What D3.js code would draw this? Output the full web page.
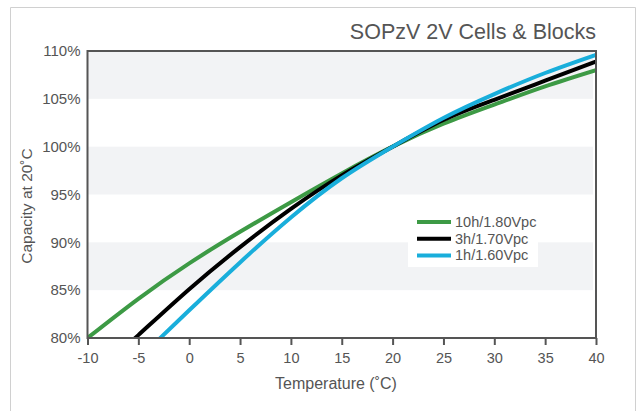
<!DOCTYPE html>
<html>
<head>
<meta charset="utf-8">
<script src="https://cdn.jsdelivr.net/npm/d3@7"></script>
<style>
  body { margin:0; background:#fff; font-family: "Liberation Sans", Arial, sans-serif; }
  svg { display:block; }
</style>
</head>
<body>
<div id="chart"></div>
<script>
// values
const temps = [-10, -5, 0, 5, 10, 15, 20, 25, 30, 35, 40];
const cap10h = [80.0, 84.1, 87.8, 91.1, 94.2, 97.2, 100, 102.4, 104.4, 106.3, 108.0];
const cap3h  = [75.5, 80.3, 85.1, 89.5, 93.5, 97.0, 100, 102.8, 104.9, 106.9, 108.9];
const cap1h  = [72.6, 77.8, 82.9, 87.9, 92.6, 96.7, 100, 103.0, 105.5, 107.7, 109.6];

const xTicks = [-10, -5, 0, 5, 10, 15, 20, 25, 30, 35, 40];
const yTicks = [80, 85, 90, 95, 100, 105, 110];
const bandStarts = [105, 95, 85];   // shaded 5% stripes

const seriesNames = ["10h/1.80Vpc", "3h/1.70Vpc", "1h/1.60Vpc"];
const seriesValues = [cap10h, cap3h, cap1h];
const seriesColors = ["#3d9a45", "#000000", "#19aedb"];

const W = 636, H = 411;
const ink = "#555";
const font = "Liberation Sans, Arial, sans-serif";

const svg = d3.select("#chart").append("svg")
  .attr("width", W).attr("height", H);

// outer light frame (no bottom edge in the picture)
svg.append("path")
  .attr("d", `M10.5,${H} V7.5 H635.5 V${H}`)
  .attr("fill", "none").attr("stroke", "#d0d0d0").attr("stroke-width", 1);

const x = d3.scaleLinear().domain([-10, 40]).range([87.5, 596]);
const y = d3.scaleLinear().domain([80, 110]).range([338, 51]);

// stripes
svg.append("g").selectAll("rect")
  .data(bandStarts)
  .join("rect")
  .attr("x", x(-10))
  .attr("y", d => y(d + 5))
  .attr("width", x(40) - x(-10) - 3)
  .attr("height", d => y(d) - y(d + 5))
  .attr("fill", "#f2f3f5");

// curves
svg.append("clipPath").attr("id", "plot")
  .append("rect")
  .attr("x", x(-10)).attr("y", y(110))
  .attr("width", x(40) - x(-10)).attr("height", y(80) - y(110));

const line = d3.line()
  .x((d, i) => x(temps[i]))
  .y(d => y(d))
  .curve(d3.curveNatural);

svg.append("g").attr("clip-path", "url(#plot)")
  .selectAll("path")
  .data(seriesValues)
  .join("path")
  .attr("d", line)
  .attr("fill", "none")
  .attr("stroke", (d, i) => seriesColors[i])
  .attr("stroke-width", 4);

// frame around the plot
svg.append("rect")
  .attr("x", x(-10)).attr("y", y(110))
  .attr("width", x(40) - x(-10)).attr("height", y(80) - y(110))
  .attr("fill", "none").attr("stroke", ink).attr("stroke-width", 2);

// x axis
const xAxis = svg.append("g")
  .attr("transform", `translate(0,${y(80)})`)
  .call(d3.axisBottom(x).tickValues(xTicks).tickSize(7).tickSizeOuter(0).tickFormat(d => String(d)));
xAxis.select(".domain").remove();
xAxis.selectAll("line").attr("stroke", ink).attr("stroke-width", 2);
xAxis.selectAll("text")
  .attr("fill", ink).attr("font-size", 14.5)
  .attr("font-family", font)
  .attr("dy", "1.0em");

// y axis labels (no ticks)
const yAxis = svg.append("g")
  .attr("transform", `translate(${x(-10)},0)`)
  .call(d3.axisLeft(y).tickValues(yTicks).tickSize(0).tickPadding(7).tickFormat(d => d + "%"));
yAxis.select(".domain").remove();
yAxis.selectAll("text")
  .attr("fill", ink).attr("font-size", 15)
  .attr("font-family", font);

// titles
svg.append("text")
  .attr("x", 596).attr("y", 39)
  .attr("text-anchor", "end")
  .attr("font-size", 21.5).attr("fill", ink)
  .text("SOPzV 2V Cells & Blocks");

svg.append("text")
  .attr("transform", `translate(32,${206}) rotate(-90)`)
  .attr("text-anchor", "middle")
  .attr("font-size", 15.5).attr("fill", ink)
  .text("Capacity at 20˚C");

svg.append("text")
  .attr("x", 336).attr("y", 389)
  .attr("text-anchor", "middle")
  .attr("font-size", 16).attr("fill", ink)
  .text("Temperature (˚C)");

// legend
const lg = svg.append("g").attr("transform", "translate(408,210)");
lg.append("rect")
  .attr("width", 130).attr("height", 57)
  .attr("fill", "#fff");

const item = lg.selectAll("g.item")
  .data(seriesNames)
  .join("g")
  .attr("class", "item")
  .attr("transform", (d, i) => `translate(0,${12 + i * 16.7})`);

item.append("line")
  .attr("x1", 9).attr("x2", 43)
  .attr("stroke", (d, i) => seriesColors[i])
  .attr("stroke-width", 4);

item.append("text")
  .attr("x", 47).attr("y", 5)
  .attr("font-size", 14.5).attr("fill", ink)
  .text(d => d);
</script>
</body>
</html>
